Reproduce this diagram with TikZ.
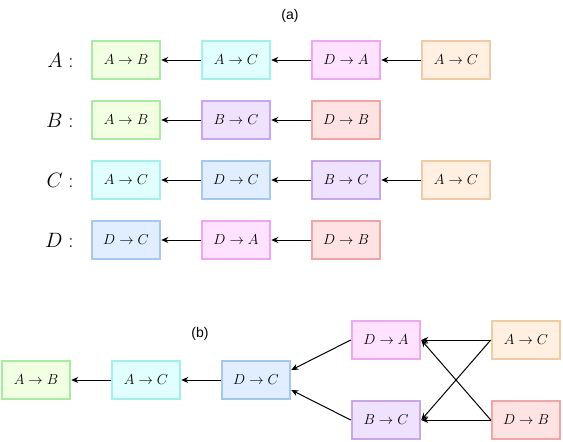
\documentclass[tikz,border=0pt]{standalone}
\usepackage{amsmath,amssymb}
\usepackage{fontspec}
\usepackage{tikz}
\usetikzlibrary{arrows.meta}
\newfontfamily\capfont{Liberation Sans}
\definecolor{greenfill}{HTML}{F1FFE2}
\definecolor{greenline}{HTML}{A9EBA2}
\definecolor{cyanfill}{HTML}{E2FFFF}
\definecolor{cyanline}{HTML}{A4EEEE}
\definecolor{pinkfill}{HTML}{FFE2FF}
\definecolor{pinkline}{HTML}{F0A6F0}
\definecolor{violetfill}{HTML}{EEE2FF}
\definecolor{violetline}{HTML}{C9A6EE}
\definecolor{redfill}{HTML}{FFE2E2}
\definecolor{redline}{HTML}{EFA6A6}
\definecolor{bluefill}{HTML}{E0EEFF}
\definecolor{blueline}{HTML}{A6C8EE}
\definecolor{orangefill}{HTML}{FFF0E2}
\definecolor{orangeline}{HTML}{F0CCA4}

\begin{document}
\begin{tikzpicture}[x=1pt, y=-1pt,
  box/.style = {draw, line width=2.5pt, minimum width=68pt, minimum height=38pt,
                inner sep=0pt, font=\fontsize{15}{17}\selectfont},
  ab/.style = {box, draw=greenline, fill=greenfill},
  ac/.style = {box, draw=cyanline, fill=cyanfill},
  da/.style = {box, draw=pinkline, fill=pinkfill},
  bc/.style = {box, draw=violetline, fill=violetfill},
  db/.style = {box, draw=redline, fill=redfill},
  dc/.style = {box, draw=blueline, fill=bluefill},
  acc/.style = {box, draw=orangeline, fill=orangefill},
  edge/.style = {line width=1pt, -{Stealth[length=7pt,width=6pt]}},
  rowlab/.style = {anchor=east, font=\fontsize{21}{23}\selectfont}]
\useasboundingbox (0,0) rectangle (563,442);
%\draw [very thin, gray] (0,0) grid[step=20] (563,442);

% (a)
\node (capa) at (290,16) {\capfont\fontsize{14}{16}\selectfont (a)};
\node[rowlab] (la) at (77,60) {$A:$};
\node[rowlab] (lb) at (77,120) {$B:$};
\node[rowlab] (lc) at (77,180) {$C:$};
\node[rowlab] (ld) at (77,240) {$D:$};

\node[ab] (a1) at (126,60) {$A\to B$};
\node[ac] (a2) at (236,60) {$A\to C$};
\node[da] (a3) at (346,60) {$D\to A$};
\node[acc] (a4) at (456,60) {$A\to C$};
\draw[edge] (a2.west) -- (a1.east);
\draw[edge] (a3.west) -- (a2.east);
\draw[edge] (a4.west) -- (a3.east);

\node[ab] (b1) at (126,120) {$A\to B$};
\node[bc] (b2) at (236,120) {$B\to C$};
\node[db] (b3) at (346,120) {$D\to B$};
\draw[edge] (b2.west) -- (b1.east);
\draw[edge] (b3.west) -- (b2.east);

\node[ac] (c1) at (126,180) {$A\to C$};
\node[dc] (c2) at (236,180) {$D\to C$};
\node[bc] (c3) at (346,180) {$B\to C$};
\node[acc] (c4) at (456,180) {$A\to C$};
\draw[edge] (c2.west) -- (c1.east);
\draw[edge] (c3.west) -- (c2.east);
\draw[edge] (c4.west) -- (c3.east);

\node[dc] (d1) at (126,240) {$D\to C$};
\node[da] (d2) at (236,240) {$D\to A$};
\node[db] (d3) at (346,240) {$D\to B$};
\draw[edge] (d2.west) -- (d1.east);
\draw[edge] (d3.west) -- (d2.east);

% (b)
\node (capb) at (200,334) {\capfont\fontsize{14}{16}\selectfont (b)};
\node[ab] (gab) at (36,380) {$A\to B$};
\node[ac] (gac) at (146,380) {$A\to C$};
\node[dc] (gdc) at (256,380) {$D\to C$};
\node[da] (gda) at (386,340) {$D\to A$};
\node[bc] (gbc) at (386,420) {$B\to C$};
\node[acc] (gacc) at (526,340) {$A\to C$};
\node[db] (gdb) at (526,420) {$D\to B$};
\draw[edge] (gac.west) -- (gab.east);
\draw[edge] (gdc.west) -- (gac.east);
\draw[edge] (gda.west) -- ([yshift=10pt]gdc.east);
\draw[edge] (gbc.west) -- ([yshift=-10pt]gdc.east);
\draw[edge] (gacc.west) -- (gda.east);
\draw[edge] (gacc.west) -- (gbc.east);
\draw[edge] (gdb.west) -- (gbc.east);
\draw[edge] (gdb.west) -- (gda.east);
\end{tikzpicture}
\end{document}
